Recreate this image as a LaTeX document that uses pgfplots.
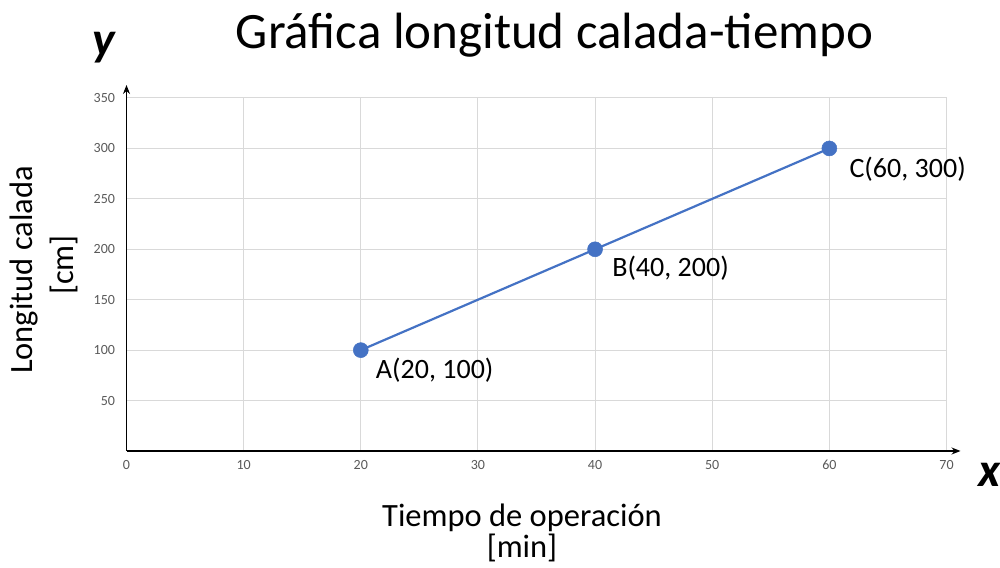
\documentclass[border=0pt]{standalone}
\usepackage{pgfplots}
\pgfplotsset{compat=1.18}
\usepackage{fontspec}
\setmainfont{Carlito}
\usetikzlibrary{arrows.meta}
\definecolor{exblue}{RGB}{68,114,196}
\definecolor{gridgray}{RGB}{217,217,217}
\definecolor{ticktext}{RGB}{89,89,89}
\begin{document}
\begin{tikzpicture}
\useasboundingbox (-126.5pt,-116pt) rectangle (873.5pt,451pt);
\begin{axis}[
  at={(0pt,0pt)}, anchor=south west,
  scale only axis, width=820pt, height=353pt,
  xmin=0, xmax=70, ymin=0, ymax=350,
  xtick={0,10,...,70}, ytick={50,100,...,350},
  grid=major, grid style={gridgray, line width=1pt},
  axis lines=left,
  axis line style={black, line width=1.2pt, -},
  major tick length=0pt,
  tick label style={font=\fontsize{14}{16}\selectfont, text=ticktext},
  /pgf/number format/assume math mode=true,
  xticklabel style={yshift=-6pt},
  yticklabel style={xshift=-8pt},
  clip=false,
]
\addplot[exblue, line width=2.2pt, mark=*, mark size=7.5pt,
  mark options={fill=exblue, draw=exblue, line width=0.5pt}]
  coordinates {(20,100) (40,200) (60,300)};
\node[anchor=west, inner sep=0pt, xshift=15pt, yshift=-20pt, font=\fontsize{28}{30}\selectfont] at (axis cs:20,100) {A(20, 100)};
\node[anchor=west, inner sep=0pt, xshift=17pt, yshift=-19pt, font=\fontsize{28}{30}\selectfont] at (axis cs:40,200) {B(40, 200)};
\node[anchor=west, inner sep=0pt, xshift=20pt, yshift=-21pt, font=\fontsize{28}{30}\selectfont] at (axis cs:60,300) {C(60, 300)};
\end{axis}
% axis arrows
\draw[black, line width=1.2pt, -{Stealth[length=9pt,width=7pt]}] (0pt,0pt) -- (834pt,0pt);
\draw[black, line width=1.2pt, -{Stealth[length=9pt,width=7pt]}] (0pt,0pt) -- (0pt,366pt);
% title
\node[anchor=base, inner sep=0pt, font=\fontsize{51}{55}\selectfont] at (428pt,402pt) {Gráfica longitud calada-tiempo};
% y label
\node[rotate=90, anchor=base, inner sep=0pt, font=\fontsize{32.5}{36}\selectfont] at (-93.5pt,181pt) {Longitud calada};
\node[rotate=90, anchor=base, inner sep=0pt, font=\fontsize{32.5}{36}\selectfont] at (-52.5pt,186pt) {[cm]};
% x label
\node[anchor=base, inner sep=0pt, font=\fontsize{32.5}{36}\selectfont] at (395.5pt,-75pt) {Tiempo de operación};
\node[anchor=base, inner sep=0pt, font=\fontsize{32.5}{36}\selectfont] at (395.5pt,-106pt) {[min]};
% axis letters
\node[anchor=base, inner sep=0pt, font=\fontsize{48}{50}\selectfont\bfseries\itshape] at (-22.5pt,395pt) {y};
\node[anchor=base, inner sep=0pt, font=\fontsize{48}{50}\selectfont\bfseries\itshape] at (863pt,-35pt) {x};
\end{tikzpicture}
\end{document}
